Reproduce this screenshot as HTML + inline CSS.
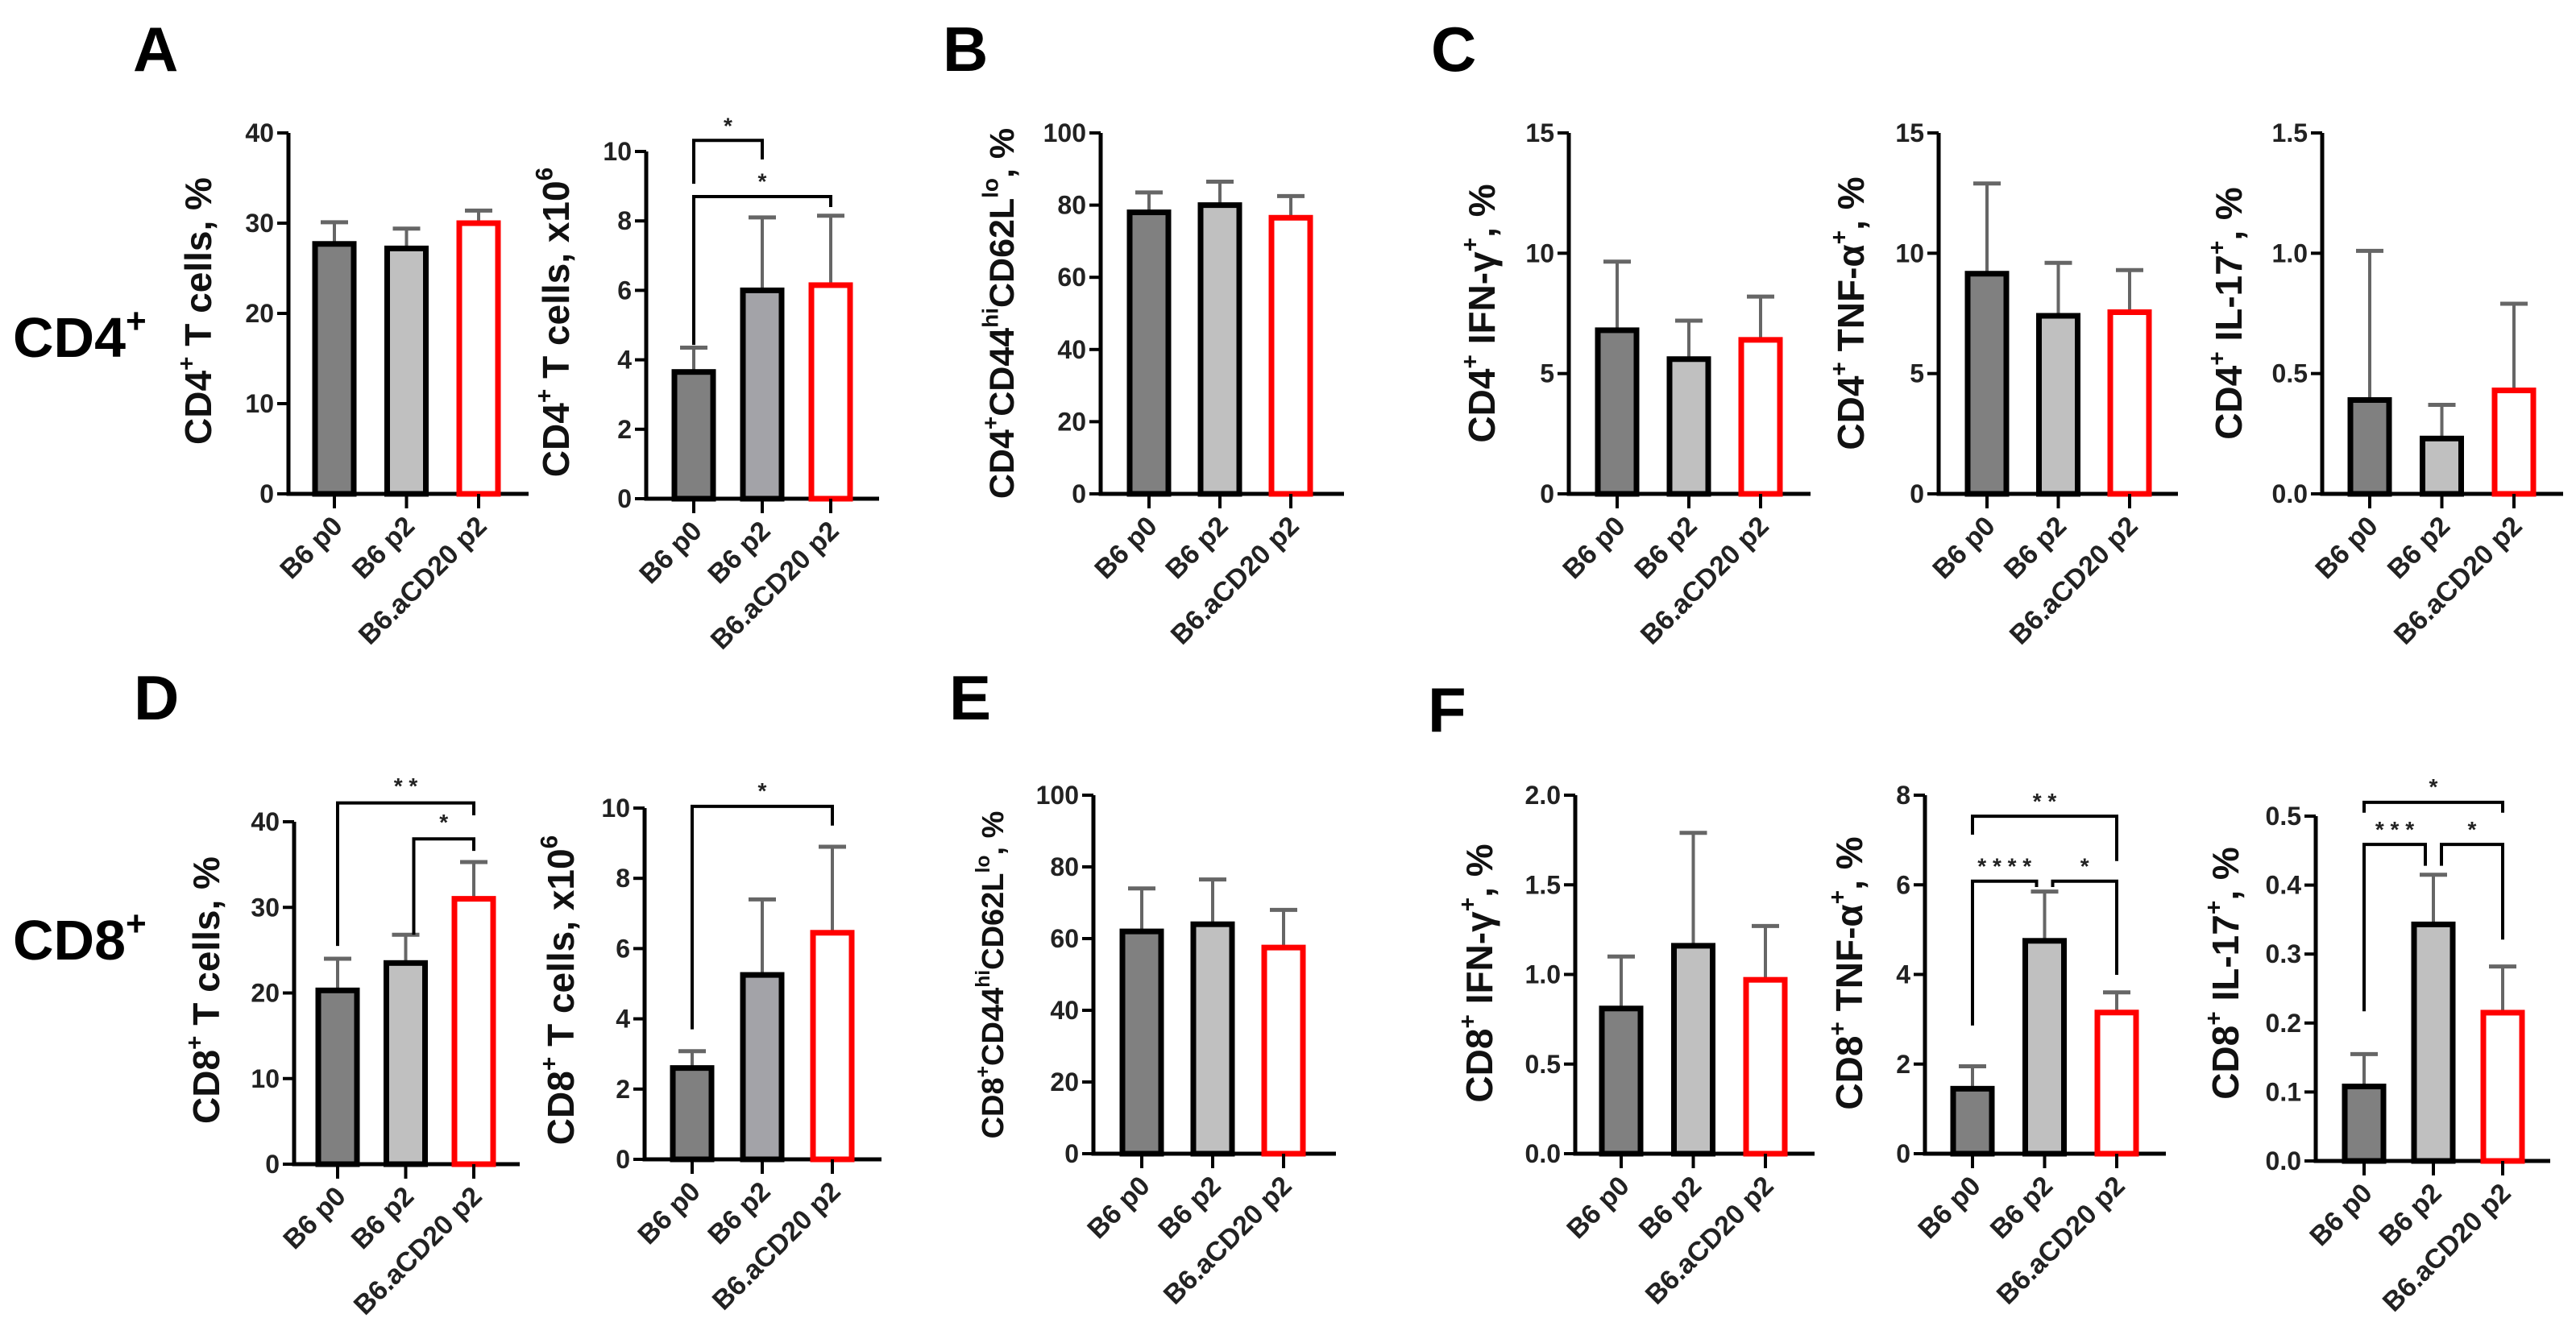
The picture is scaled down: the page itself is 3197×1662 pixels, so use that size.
<!DOCTYPE html>
<html><head><meta charset="utf-8">
<style>
html,body{margin:0;padding:0;background:#fff;}
svg{display:block;font-family:"Liberation Sans",Arial,sans-serif;}
.tick{font-size:32px;font-weight:bold;fill:#222;}
.cat{font-size:34px;font-weight:bold;fill:#222;}
.ttl{font-weight:bold;fill:#111;}
.letter{font-size:78px;font-weight:bold;fill:#000;}
.row{font-size:70px;font-weight:bold;fill:#000;}
.sig{font-size:28px;font-weight:bold;fill:#222;}
</style></head>
<body>
<svg id="fig" width="3197" height="1662" viewBox="0 0 3197 1662" xmlns="http://www.w3.org/2000/svg">
<text class="letter" x="165" y="88">A</text>
<text class="letter" x="1170" y="88">B</text>
<text class="letter" x="1776" y="88">C</text>
<text class="letter" x="166" y="893">D</text>
<text class="letter" x="1178" y="893">E</text>
<text class="letter" x="1772" y="908">F</text>
<text class="row" x="16" y="443">CD4<tspan font-size="44" dy="-30">+</tspan></text>
<text class="row" x="16" y="1191">CD8<tspan font-size="44" dy="-30">+</tspan></text>
</svg>
<script>
const categories = ["B6 p0", "B6 p2", "B6.aCD20 p2"];
const a1Values = [27.7, 27.2, 30.0];
const a1Errors = [30.1, 29.4, 31.4];
const a1Ticks = [0, 10, 20, 30, 40];
const a1TickLabels = ["0", "10", "20", "30", "40"];
const a2Values = [3.65, 6.0, 6.15];
const a2Errors = [4.35, 8.1, 8.15];
const a2Ticks = [0, 2, 4, 6, 8, 10];
const a2TickLabels = ["0", "2", "4", "6", "8", "10"];
const bValues = [78, 80, 76.5];
const bErrors = [83.5, 86.5, 82.5];
const bTicks = [0, 20, 40, 60, 80, 100];
const bTickLabels = ["0", "20", "40", "60", "80", "100"];
const c1Values = [6.8, 5.6, 6.4];
const c1Errors = [9.65, 7.2, 8.2];
const c2Values = [9.15, 7.4, 7.55];
const c2Errors = [12.9, 9.6, 9.3];
const c15Ticks = [0, 5, 10, 15];
const c15TickLabels = ["0", "5", "10", "15"];
const c3Values = [0.39, 0.23, 0.43];
const c3Errors = [1.01, 0.37, 0.79];
const c3Ticks = [0, 0.5, 1.0, 1.5];
const c3TickLabels = ["0.0", "0.5", "1.0", "1.5"];
const d1Values = [20.3, 23.5, 31.0];
const d1Errors = [24.0, 26.8, 35.3];
const d2Values = [2.6, 5.25, 6.45];
const d2Errors = [3.08, 7.4, 8.9];
const eValues = [62, 64, 57.5];
const eErrors = [74, 76.5, 68];
const f1Values = [0.81, 1.16, 0.97];
const f1Errors = [1.1, 1.79, 1.27];
const f1Ticks = [0, 0.5, 1.0, 1.5, 2.0];
const f1TickLabels = ["0.0", "0.5", "1.0", "1.5", "2.0"];
const f2Values = [1.45, 4.75, 3.15];
const f2Errors = [1.95, 5.85, 3.6];
const f2Ticks = [0, 2, 4, 6, 8];
const f2TickLabels = ["0", "2", "4", "6", "8"];
const f3Values = [0.108, 0.343, 0.215];
const f3Errors = [0.155, 0.415, 0.282];
const f3Ticks = [0, 0.1, 0.2, 0.3, 0.4, 0.5];
const f3TickLabels = ["0.0", "0.1", "0.2", "0.3", "0.4", "0.5"];
// significance brackets: [fromIdx, toIdx, yValue, leftLegEnd, rightLegEnd, label, labelY]
const a2Brackets = [[0, 1, 10.32, 9.07, 9.77, "*", 10.85], [0, 2, 8.7, 4.43, 8.4, "*", 9.25]];
const d1Brackets = [[0, 2, 42.2, 25.5, 40.75, "* *", 44.6], [1, 2, 38.0, 26.8, 36.6, "*", 40.4]];
const d2Brackets = [[0, 2, 10.05, 3.7, 9.5, "*", 10.6]];
const f2Brackets = [[0, 2, 7.53, 7.12, 6.53, "* *", 7.95], [0, 1, 6.08, 2.86, 5.95, "* * * *", 6.5], [1, 2, 6.08, 5.95, 3.99, "*", 6.5]];
const f3Brackets = [[0, 2, 0.52, 0.505, 0.505, "*", 0.548], [0, 1, 0.459, 0.217, 0.428, "* * *", 0.486], [1, 2, 0.459, 0.428, 0.321, "*", 0.486]];

const NS = "http://www.w3.org/2000/svg";
const svg = document.getElementById("fig");
const fills = ["#808080", "#c0c0c0", "#ffffff"];
function mk(tag, attrs, parent) {
  const e = document.createElementNS(NS, tag);
  for (const k in attrs) e.setAttribute(k, attrs[k]);
  (parent || svg).appendChild(e);
  return e;
}
function panel(L, values, errors, ticks, tickLabels, title, brackets) {
  const g = mk("g", {});
  
  
  const max = ticks[ticks.length - 1];
  const y = v => L.y0 - (v / max) * (L.y0 - L.yTop);
  const x = i => L.ax + L.off + i * L.step;
  const ax = mk("path", {d: `M${L.ax} ${L.yTop} V${L.y0} H${L.xr}`, stroke: "#000", "stroke-width": 5, fill: "none"}, g);
  
  
  ticks.forEach((t, k) => {
    const yy = y(t);
    mk("line", {x1: L.ax - 14, x2: L.ax, y1: yy, y2: yy, stroke: "#000", "stroke-width": 4}, g);
    const tl = mk("text", {x: L.ax - 18, y: yy + 11, "text-anchor": "end", class: "tick"}, g);
    tl.textContent = tickLabels[k];
    
    
  });
  values.forEach((v, i) => {
    const cx = x(i);
    const top = y(v);
    const col = L.fill2 && i === 1 ? L.fill2 : fills[i];
    const ec = i === 2 ? "#ff0000" : "#000";
    const el = mk("line", {x1: cx, x2: cx, y1: y(errors[i]), y2: top, stroke: "#666", "stroke-width": 4}, g);
    
    
    mk("line", {x1: cx - 17, x2: cx + 17, y1: y(errors[i]), y2: y(errors[i]), stroke: "#666", "stroke-width": 5}, g);
    const r = mk("rect", {x: cx - 24, y: top, width: 48, height: L.y0 - top, fill: col, stroke: ec, "stroke-width": 7}, g);
    
    
    mk("line", {x1: cx, x2: cx, y1: L.y0, y2: L.y0 + 18, stroke: "#000", "stroke-width": 4}, g);
    const c = mk("text", {x: 0, y: 0, "text-anchor": "end", class: "cat", transform: `translate(${cx + 12},${L.y0 + 42}) rotate(-45)`}, g);
    c.textContent = categories[i];
    
    
  });
  (brackets || []).forEach(b => {
    const xa = x(b[0]) + (b[0] === 1 ? 10 : 0);
    const xb = x(b[1]) - (b[1] === 1 && b[0] === 0 && brackets.length > 2 ? 10 : 0);
    const yb = y(b[2]);
    const p = mk("path", {d: `M${xa} ${y(b[3])} V${yb} H${xb} V${y(b[4])}`, stroke: "#000", "stroke-width": 4, fill: "none"}, g);
    
    
    const s = mk("text", {x: (xa + xb) / 2, y: y(b[6]) + 14, "text-anchor": "middle", class: "sig"}, g);
    s.textContent = b[5];
    
    
  });
  const t = mk("text", {x: 0, y: 0, "text-anchor": "middle", class: "ttl", "font-size": L.fs, transform: `translate(${L.tx},${L.ty}) rotate(-90)`}, g);
  
  
  title.forEach(seg => {
    const ts = mk("tspan", {}, t);
    ts.textContent = seg[0];
    if (seg[1] === 1) { ts.setAttribute("font-size", L.fs * 0.65); ts.setAttribute("dy", -L.fs * 0.45); }
    if (seg[1] === -1) { ts.setAttribute("font-size", L.fs); ts.setAttribute("dy", L.fs * 0.45); }
  });
}
const T_cd4 = [["CD4", 0], ["+", 1], [" T cells, %", -1]];
panel({name: "panel-a-cd4-percent", ax: 358, yTop: 165, y0: 613, xr: 656, off: 57, step: 89.5, tx: 262, ty: 386, fs: 46}, a1Values, a1Errors, a1Ticks, a1TickLabels, T_cd4);
panel({name: "panel-a-cd4-count", ax: 802, yTop: 188, y0: 619, xr: 1091, off: 59, step: 85, tx: 706, ty: 400, fs: 46, fill2: "#a3a3a8"}, a2Values, a2Errors, a2Ticks, a2TickLabels, [["CD4", 0], ["+", 1], [" T cells, x10", -1], ["6", 1]], a2Brackets);
panel({name: "panel-b-cd4-effector", ax: 1366, yTop: 165, y0: 613, xr: 1668, off: 60, step: 88, tx: 1258, ty: 389, fs: 43}, bValues, bErrors, bTicks, bTickLabels, [["CD4", 0], ["+", 1], ["CD44", -1], ["hi", 1], ["CD62L", -1], ["lo", 1], [", %", -1]]);
panel({name: "panel-c-cd4-ifng", ax: 1947, yTop: 165, y0: 613, xr: 2247, off: 60, step: 89, tx: 1855, ty: 389, fs: 46}, c1Values, c1Errors, c15Ticks, c15TickLabels, [["CD4", 0], ["+", 1], [" IFN-γ", -1], ["+", 1], [", %", -1]]);
panel({name: "panel-c-cd4-tnfa", ax: 2406, yTop: 165, y0: 613, xr: 2703, off: 60, step: 88.5, tx: 2313, ty: 389, fs: 46}, c2Values, c2Errors, c15Ticks, c15TickLabels, [["CD4", 0], ["+", 1], [" TNF-α", -1], ["+", 1], [", %", -1]]);
panel({name: "panel-c-cd4-il17", ax: 2882, yTop: 165, y0: 613, xr: 3181, off: 59, step: 89.5, tx: 2782, ty: 389, fs: 46}, c3Values, c3Errors, c3Ticks, c3TickLabels, [["CD4", 0], ["+", 1], [" IL-17", -1], ["+", 1], [", %", -1]]);
panel({name: "panel-d-cd8-percent", ax: 365, yTop: 1020, y0: 1445, xr: 645, off: 54, step: 84.5, tx: 272, ty: 1229, fs: 46}, d1Values, d1Errors, a1Ticks, a1TickLabels, [["CD8", 0], ["+", 1], [" T cells, %", -1]], d1Brackets);
panel({name: "panel-d-cd8-count", ax: 800, yTop: 1003, y0: 1439, xr: 1094, off: 59, step: 87, tx: 712, ty: 1229, fs: 46, fill2: "#a3a3a8"}, d2Values, d2Errors, a2Ticks, a2TickLabels, [["CD8", 0], ["+", 1], [" T cells, x10", -1], ["6", 1]], d2Brackets);
panel({name: "panel-e-cd8-effector", ax: 1357, yTop: 987, y0: 1432, xr: 1658, off: 60, step: 88, tx: 1245, ty: 1210, fs: 38}, eValues, eErrors, bTicks, bTickLabels, [["CD8", 0], ["+", 1], ["CD44", -1], ["hi", 1], ["CD62L", -1], ["lo", 1], [", %", -1]]);
panel({name: "panel-f-cd8-ifng", ax: 1955, yTop: 987, y0: 1432, xr: 2252, off: 57, step: 89.5, tx: 1852, ty: 1208, fs: 46}, f1Values, f1Errors, f1Ticks, f1TickLabels, [["CD8", 0], ["+", 1], [" IFN-γ", -1], ["+", 1], [", %", -1]]);
panel({name: "panel-f-cd8-tnfa", ax: 2389, yTop: 987, y0: 1432, xr: 2688, off: 59, step: 89.5, tx: 2311, ty: 1208, fs: 46}, f2Values, f2Errors, f2Ticks, f2TickLabels, [["CD8", 0], ["+", 1], [" TNF-α", -1], ["+", 1], [", %", -1]], f2Brackets);
panel({name: "panel-f-cd8-il17", ax: 2874, yTop: 1013, y0: 1441, xr: 3165, off: 60, step: 86, tx: 2778, ty: 1208, fs: 46}, f3Values, f3Errors, f3Ticks, f3TickLabels, [["CD8", 0], ["+", 1], [" IL-17", -1], ["+", 1], [", %", -1]], f3Brackets);
</script>
</body></html>
